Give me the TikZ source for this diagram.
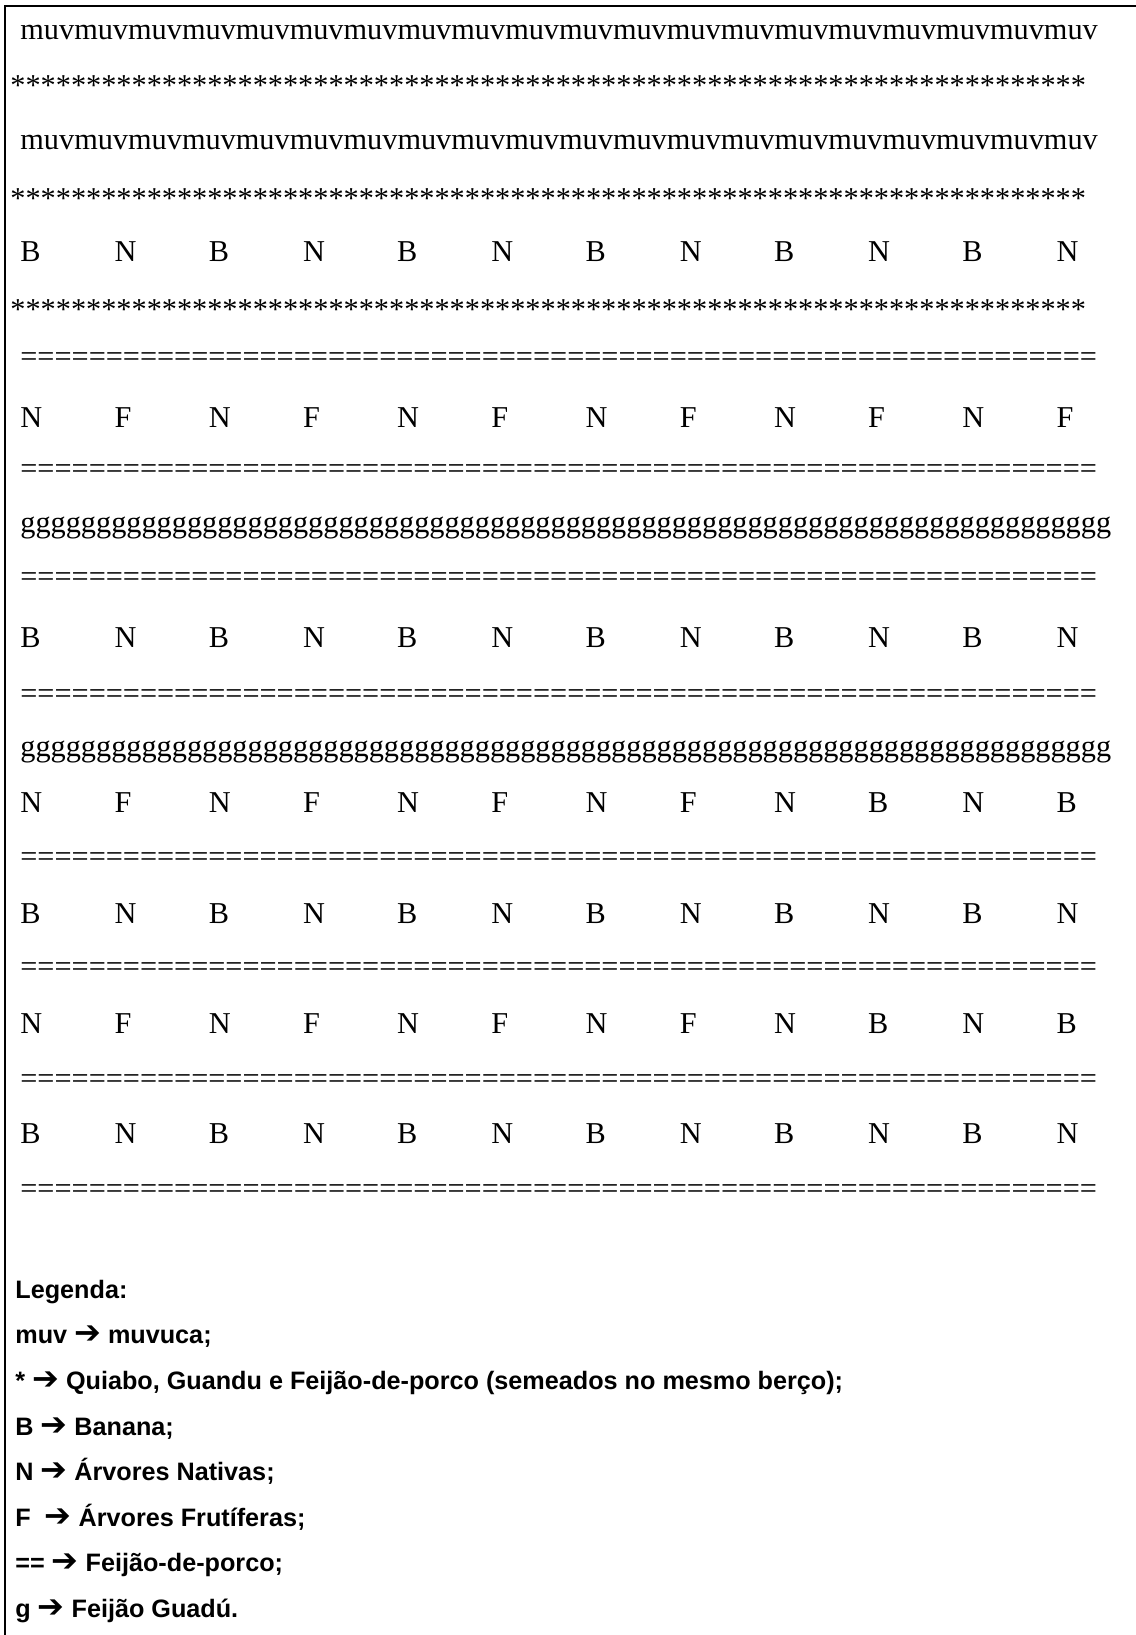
\documentclass[tikz,border=0pt]{standalone}
\usepackage{fontspec}
\setmainfont{Liberation Serif}
\newfontfamily\legendfont{Liberation Sans}
\newfontfamily\arrowfont{DejaVu Sans}
\ExplSyntaxOn
\cs_new:Npn \reprow #1#2 { \prg_replicate:nn {#1} {#2} }
\ExplSyntaxOff
\newcommand\legarrow{{\arrowfont\fontsize{16}{15}\selectfont\char"2794}}

\tikzset{
  plant/.style={anchor=base west, inner sep=0pt, font=\fontsize{15.15}{18}\selectfont},
  legend/.style={anchor=base west, inner sep=0pt, font=\legendfont\bfseries\fontsize{12.6}{15}\selectfont},
  frame/.style={line width=1.3pt}
}

\begin{document}
\begin{tikzpicture}[x=0.5pt, y=-0.5pt]
\useasboundingbox (0,0) rectangle (1136,1635);
\coordinate (corner) at (5,6);
\coordinate (topend) at (1136,6);
\coordinate (bottomend) at (5,1635);
\draw[frame] (bottomend) -- (corner) -- (topend);

% muvuca and quiabo rows
\node[plant] (muvA) at (20,39) {\reprow{20}{muv}};
\node[plant] (starA) at (10,95) {\reprow{71}{*}};
\node[plant] (muvB) at (20,149) {\reprow{20}{muv}};
\node[plant] (starB) at (10,208) {\reprow{71}{*}};
\node[plant] (starC) at (10,319) {\reprow{71}{*}};

% feijao-de-porco and guandu rows
\foreach \y/\nm in {366/a,478/b,586/c,703/d,866/e,976/f,1088/g,1198/h}
  \node[plant] (porco\nm) at (20,\y) {\reprow{63}{=}};
\node[plant] (guanduA) at (20,532) {\reprow{72}{g}};
\node[plant] (guanduB) at (20,756) {\reprow{72}{g}};

% tree rows
\foreach \y/\nm in {261/a,647/b,923/c,1143/d}
  \foreach \t [count=\k from 0] in {B,N,B,N,B,N,B,N,B,N,B,N}
    \node[plant] (bn\nm\k) at (20+94.2*\k,\y) {\t};
\foreach \t [count=\k from 0] in {N,F,N,F,N,F,N,F,N,F,N,F}
  \node[plant] (nfa\k) at (20+94.2*\k,427) {\t};
\foreach \y/\nm in {812/b,1033/c}
  \foreach \t [count=\k from 0] in {N,F,N,F,N,F,N,F,N,B,N,B}
    \node[plant] (nf\nm\k) at (20+94.2*\k,\y) {\t};

% legend
\node[legend] (legTitle) at (15,1298) {Legenda:};
\node[legend] (legMuv) at (15,1343) {muv \legarrow\ muvuca;};
\node[legend] (legStar) at (15,1389) {* \legarrow\ Quiabo, Guandu e Feijão-de-porco (semeados no mesmo berço);};
\node[legend] (legB) at (15,1435) {B \legarrow\ Banana;};
\node[legend] (legN) at (15,1480) {N \legarrow\ Árvores Nativas;};
\node[legend] (legF) at (15,1526) {F\ \ \legarrow\ Árvores Frutíferas;};
\node[legend] (legPorco) at (15,1571) {== \legarrow\ Feijão-de-porco;};
\node[legend] (legG) at (15,1617) {g \legarrow\ Feijão Guadú.};
\end{tikzpicture}
\end{document}
